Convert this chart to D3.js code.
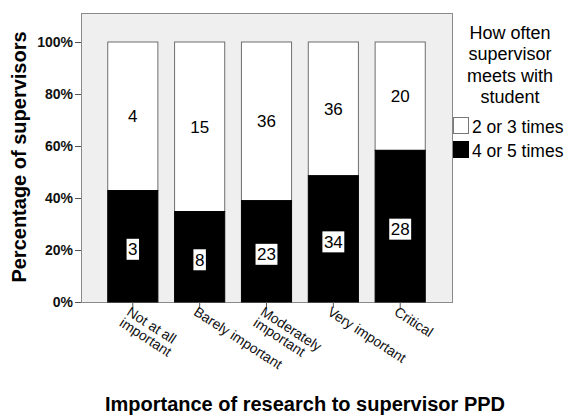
<!DOCTYPE html>
<html>
<head>
<meta charset="utf-8">
<script src="https://cdn.jsdelivr.net/npm/d3@7"></script>
<style>
  body { margin: 0; background: #fff; }
  text { font-family: Arial, "Liberation Sans", sans-serif; }
</style>
</head>
<body>
<script>
// categories + counts
var categories = ["Not at all important", "Barely important", "Moderately important", "Very important", "Critical"];
var catLines = [["Not at all", "important"], ["Barely important"], ["Moderately", "important"], ["Very important"], ["Critical"]];
var low = [3, 8, 23, 34, 28];      // 4 or 5 times
var high = [4, 15, 36, 36, 20];    // 2 or 3 times
var yTicks = [0, 20, 40, 60, 80, 100];
var legendTitle = ["How often", "supervisor", "meets with", "student"];
var seriesNames = ["2 or 3 times", "4 or 5 times"];

var W = 570, H = 415;
// note: "top" is taken by window.top, so prefix these
var pLeft = 81, pRight = 452, pTop = 13, pBottom = 302;

var svg = d3.select("body").append("svg")
    .attr("width", W)
    .attr("height", H);

var x = d3.scaleBand()
    .domain(categories)
    .range([pLeft, pRight])
    .paddingInner(0.25)
    .paddingOuter(0.4);

var y = d3.scaleLinear()
    .domain([0, 100])
    .range([pBottom, 42]);

// plot background
svg.append("rect")
    .attr("x", pLeft + 0.5).attr("y", pTop + 0.5)
    .attr("width", pRight - pLeft).attr("height", pBottom - pTop)
    .attr("fill", "#efefef")
    .attr("stroke", "#8a8a8a")
    .attr("stroke-width", 1);

var rows = categories.map(function(c, i){
    var tot = low[i] + high[i];
    return { cat: c, low: low[i], high: high[i], pLow: 100 * low[i] / tot };
});

// white part (top)
svg.selectAll("rect.hi")
    .data(rows)
    .enter()
    .append("rect")
    .attr("class", "hi")
    .attr("x", function(d){ return x(d.cat); })
    .attr("y", y(100))
    .attr("width", x.bandwidth())
    .attr("height", function(d){ return y(d.pLow) - y(100); })
    .attr("fill", "#fff")
    .attr("stroke", "#6e6e6e");

// black part (bottom)
svg.selectAll("rect.lo")
    .data(rows)
    .enter()
    .append("rect")
    .attr("class", "lo")
    .attr("x", function(d){ return x(d.cat); })
    .attr("y", function(d){ return y(d.pLow); })
    .attr("width", x.bandwidth())
    .attr("height", function(d){ return y(0) - y(d.pLow); })
    .attr("fill", "#000")
    .attr("stroke", "#000");

// count labels
svg.selectAll("text.hiLab")
    .data(rows)
    .enter()
    .append("text")
    .attr("class", "hiLab")
    .attr("x", function(d){ return x(d.cat) + x.bandwidth() / 2; })
    .attr("y", function(d){ return (y(100) + y(d.pLow)) / 2 + 6; })
    .attr("text-anchor", "middle")
    .attr("font-size", 17)
    .text(function(d){ return d.high; });

var loLab = svg.selectAll("g.loLab")
    .data(rows)
    .enter()
    .append("g")
    .attr("class", "loLab")
    .attr("transform", function(d){
        return "translate(" + (x(d.cat) + x.bandwidth() / 2) + "," + ((y(0) + y(d.pLow)) / 2 + 3) + ")";
    });
loLab.append("rect");
loLab.append("text")
    .attr("text-anchor", "middle")
    .attr("y", 6)
    .attr("font-size", 17)
    .text(function(d){ return d.low; });
loLab.each(function(){
    var g = d3.select(this);
    var bb = g.select("text").node().getBBox();
    g.select("rect")
        .attr("x", bb.x - 1.5).attr("y", -10.5)
        .attr("width", bb.width + 3).attr("height", 21)
        .attr("fill", "#fff");
});

// y axis
var yAxis = svg.append("g")
    .attr("transform", "translate(" + pLeft + ",0)")
    .call(d3.axisLeft(y).tickValues(yTicks).tickSize(6).tickPadding(2)
        .tickFormat(function(d){ return d + "%"; }));
yAxis.select(".domain").remove();
yAxis.selectAll("line").attr("stroke", "#555");
yAxis.selectAll("text")
    .attr("font-size", 14)
    .attr("font-weight", "bold")
    .attr("fill", "#111")
    .style("font-family", "Arial, 'Liberation Sans', sans-serif");

// x axis
var xAxis = svg.append("g")
    .attr("transform", "translate(0," + pBottom + ")")
    .call(d3.axisBottom(x).tickSize(6).tickFormat(""));
xAxis.select(".domain").remove();
xAxis.selectAll("line").attr("stroke", "#555");

var xl = svg.selectAll("text.xl")
    .data(categories)
    .enter()
    .append("text")
    .attr("class", "xl")
    .attr("font-size", 14)
    .attr("fill", "#111")
    .attr("transform", function(d){
        return "translate(" + (x(d) + x.bandwidth() / 2 - 1) + "," + (pBottom + 3) + ") rotate(33)";
    });
xl.selectAll("tspan")
    .data(function(d, i){ return catLines[i]; })
    .enter()
    .append("tspan")
    .attr("x", 0)
    .attr("dy", function(d, i){ return i === 0 ? "0.78em" : "0.95em"; })
    .text(function(d){ return d; });

// axis titles
svg.append("text")
    .attr("x", 305).attr("y", 411)
    .attr("text-anchor", "middle")
    .attr("font-size", 20)
    .attr("font-weight", "bold")
    .text("Importance of research to supervisor PPD");

svg.append("text")
    .attr("transform", "translate(26,157) rotate(-90)")
    .attr("text-anchor", "middle")
    .attr("font-size", 20)
    .attr("font-weight", "bold")
    .text("Percentage of supervisors");

// legend
svg.selectAll("text.lt")
    .data(legendTitle)
    .enter()
    .append("text")
    .attr("class", "lt")
    .attr("x", 510)
    .attr("y", function(d, i){ return 39 + i * 21.3; })
    .attr("text-anchor", "middle")
    .attr("font-size", 18)
    .text(function(d){ return d; });

var leg = svg.selectAll("g.leg")
    .data(seriesNames)
    .enter()
    .append("g")
    .attr("class", "leg")
    .attr("transform", function(d, i){ return "translate(453," + (117 + i * 24) + ")"; });
leg.append("rect")
    .attr("x", 0.5).attr("y", 0.5)
    .attr("width", 15).attr("height", 16)
    .attr("fill", function(d, i){ return i === 0 ? "#fff" : "#000"; })
    .attr("stroke", function(d, i){ return i === 0 ? "#777" : "#000"; });
leg.append("text")
    .attr("x", 19).attr("y", 16)
    .attr("font-size", 17.5)
    .text(function(d){ return d; });
</script>
</body>
</html>
